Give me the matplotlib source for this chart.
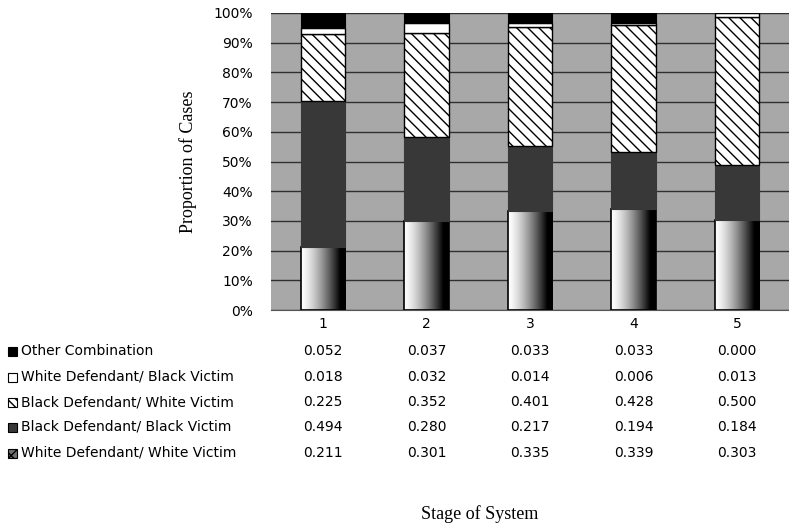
import matplotlib.pyplot as plt
import numpy as np
from matplotlib.transforms import blended_transform_factory

stages = ['1', '2', '3', '4', '5']
series_names = ['White Defendant/ White Victim',
                'Black Defendant/ Black Victim',
                'Black Defendant/ White Victim',
                'White Defendant/ Black Victim',
                'Other Combination']
white_white = [0.211, 0.301, 0.335, 0.339, 0.303]
black_black = [0.494, 0.280, 0.217, 0.194, 0.184]
black_white = [0.225, 0.352, 0.401, 0.428, 0.500]
white_black = [0.018, 0.032, 0.014, 0.006, 0.013]
other = [0.052, 0.037, 0.033, 0.033, 0.000]
yticks = [0, 0.1, 0.2, 0.3, 0.4, 0.5, 0.6, 0.7, 0.8, 0.9, 1.0]

values = [white_white, black_black, black_white, white_black, other]

plt.rcParams['hatch.linewidth'] = 1.0
sans = 'DejaVu Sans'
serif = 'Liberation Serif'

fig = plt.figure(figsize=(7.89, 5.29), dpi=100)
ax = fig.add_axes([271 / 789, (529 - 310) / 529, 518 / 789, 297 / 529])
ax.set_facecolor('#a8a8a8')

x = np.arange(len(stages))
width = 0.43
ax.set_xlim(-0.5, 4.5)
ax.set_ylim(0, 1)

# gradient for the bottom segments: light on the left, black on the right
grad = np.linspace(0, 1, 256) ** 1.4
grad = np.clip(grad * 1.2, 0, 1)
grad = np.tile(grad, (2, 1))

bottom = np.zeros(len(stages))
for k, vals in enumerate(values):
    vals = np.array(vals)
    if k == 0:
        for xi, h in zip(x, vals):
            ax.imshow(grad, cmap='gray_r', vmin=0, vmax=1, aspect='auto',
                      extent=[xi - width / 2, xi + width / 2, 0, h],
                      zorder=2, interpolation='bilinear')
        ax.bar(x, vals, width, bottom=bottom, facecolor='none',
               edgecolor='black', linewidth=1.2, zorder=3)
    elif k == 1:
        ax.bar(x, vals, width, bottom=bottom, color='#383838',
               edgecolor='#383838', linewidth=0.8, zorder=3)
    elif k == 2:
        ax.bar(x, vals, width, bottom=bottom, facecolor='white',
               edgecolor='black', hatch='\\\\\\', linewidth=1.0, zorder=3)
    elif k == 3:
        ax.bar(x, vals, width, bottom=bottom, facecolor='white',
               edgecolor='black', linewidth=1.0, zorder=3)
    else:
        ax.bar(x, vals, width, bottom=bottom, color='black',
               edgecolor='black', linewidth=0.8, zorder=3)
    bottom += vals

ax.set_yticks(yticks)
ax.set_yticklabels(['%d%%' % round(v * 100) for v in yticks],
                   fontfamily=sans, fontsize=10)
ax.set_xticks(x)
ax.set_xticklabels(stages, fontfamily=sans, fontsize=10)
ax.tick_params(axis='y', length=0, pad=13)
ax.tick_params(axis='x', length=0, pad=5)
ax.grid(axis='y', color='#303030', linewidth=1.0, zorder=1)
ax.set_axisbelow(True)
for s in ['top', 'right', 'left']:
    ax.spines[s].set_visible(False)
ax.spines['bottom'].set_color('#555555')

ax.set_ylabel('Proportion of Cases', fontfamily=serif,
              fontsize=13, labelpad=12)

# data table below the chart
trans = blended_transform_factory(ax.transData, fig.transFigure)
row_y = [351, 377, 402, 427, 453]
swatch = {
    'Other Combination': dict(facecolor='black', hatch=None),
    'White Defendant/ Black Victim': dict(facecolor='white', hatch=None),
    'Black Defendant/ White Victim': dict(facecolor='white', hatch='\\\\\\\\'),
    'Black Defendant/ Black Victim': dict(facecolor='#383838', hatch=None),
    'White Defendant/ White Victim': dict(facecolor='#707070', hatch='xxx'),
}
for r, k in enumerate(range(len(values) - 1, -1, -1)):
    fy = 1 - row_y[r] / 529
    name = series_names[k]
    st = swatch[name]
    fig.patches.append(plt.Rectangle((8 / 789, fy - 5 / 529), 9 / 789, 9 / 529,
                                     transform=fig.transFigure,
                                     facecolor=st['facecolor'],
                                     edgecolor='black', linewidth=0.8,
                                     hatch=st['hatch']))
    fig.text(21 / 789, fy, name, fontfamily=sans, fontsize=10,
             va='center', ha='left')
    for xi, v in zip(x, values[k]):
        ax.text(xi, fy, '%.3f' % v, transform=trans, fontfamily=sans,
                fontsize=10, va='center', ha='center')

fig.text(480 / 789, 1 - 514 / 529, 'Stage of System', fontfamily=serif,
         fontsize=13, ha='center', va='center')

fig.savefig('out.png', dpi=100)
